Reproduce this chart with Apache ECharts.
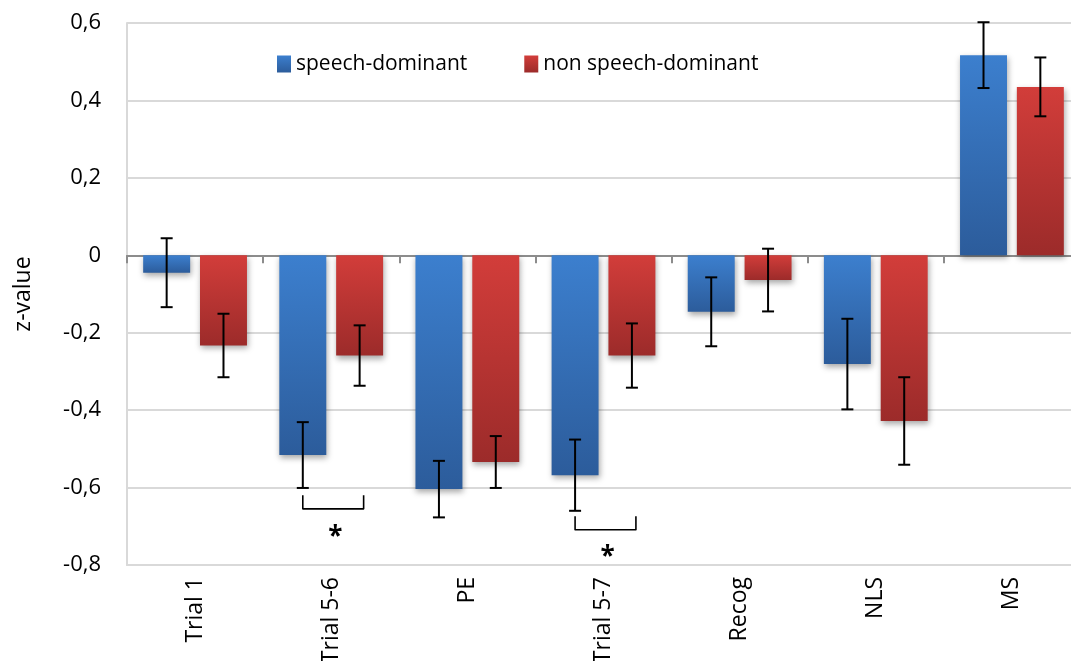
<!DOCTYPE html>
<html>
<head>
<meta charset="utf-8">
<script src="https://cdn.jsdelivr.net/npm/echarts@6/dist/echarts.min.js"></script>
<style>
  html, body { margin: 0; padding: 0; background: #ffffff; }
  #chart { width: 1071px; height: 661px; }
</style>
</head>
<body>
<div id="chart"></div>
<script>
// ---- data ----
const categories = ['Trial 1', 'Trial 5-6', 'PE', 'Trial 5-7', 'Recog', 'NLS', 'MS'];
const seriesNames = ['speech-dominant', 'non speech-dominant'];
const speechValues = [-0.045, -0.516, -0.604, -0.568, -0.146, -0.281, 0.517];
const speechErrors = [0.089, 0.085, 0.073, 0.092, 0.089, 0.117, 0.085];
const nonSpeechValues = [-0.233, -0.259, -0.534, -0.259, -0.064, -0.428, 0.435];
const nonSpeechErrors = [0.082, 0.078, 0.067, 0.083, 0.081, 0.113, 0.076];
const yTicks = [-0.8, -0.6, -0.4, -0.2, 0, 0.2, 0.4, 0.6];
// significance brackets
const sigCategories = ['Trial 5-6', 'Trial 5-7'];
const sigTop = [-0.620, -0.674];
const sigBottom = [-0.655, -0.709];
const sigStarY = [-0.728, -0.780];
const sigLabel = '*';

// ---- style ----
const FONT = '"Open Sans", "Noto Sans", sans-serif';
const BAR_W = 0.345;   // fraction of band
const BAR_GAP = 0.21;  // fraction of bar width
const blueGrad = new echarts.graphic.LinearGradient(0, 0, 0, 1, [
  { offset: 0, color: '#3C7FCE' }, { offset: 1, color: '#2C5C9B' }]);
const redGrad = new echarts.graphic.LinearGradient(0, 0, 0, 1, [
  { offset: 0, color: '#D23D3A' }, { offset: 1, color: '#9C2B2A' }]);

function barOffset(api, sign) {
  const band = api.size([1, 0])[0];
  return sign * band * BAR_W * (1 + BAR_GAP) / 2;
}

function errRender(values, errors, sign) {
  return function (params, api) {
    const i = api.value(0);
    const v = values[i], e = errors[i];
    const off = barOffset(api, sign);
    const top = api.coord([i, v + e]);
    const bot = api.coord([i, v - e]);
    const x = top[0] + off;
    const cap = 6;
    const style = { stroke: '#000', lineWidth: 2, fill: null };
    return {
      type: 'group',
      children: [
        { type: 'line', shape: { x1: x, y1: top[1], x2: x, y2: bot[1] }, style },
        { type: 'line', shape: { x1: x - cap, y1: top[1], x2: x + cap, y2: top[1] }, style },
        { type: 'line', shape: { x1: x - cap, y1: bot[1], x2: x + cap, y2: bot[1] }, style }
      ]
    };
  };
}

const sigData = sigCategories.map((c, k) => [categories.indexOf(c), sigTop[k], sigBottom[k], sigStarY[k]]);

const chart = echarts.init(document.getElementById('chart'), null, { renderer: 'canvas' });
chart.setOption({
  animation: false,
  backgroundColor: '#ffffff',
  textStyle: { fontFamily: FONT },
  grid: { left: 127, width: 953, top: 23, height: 542, containLabel: false, outerBoundsMode: 'none' },
  legend: {
    data: seriesNames,
    left: 277, top: 52, padding: 0,
    itemWidth: 14, itemHeight: 17, itemGap: 57,
    textStyle: { fontFamily: FONT, fontSize: 21, color: '#000', lineHeight: 24 },
    icon: 'rect'
  },
  xAxis: [
    {
      type: 'category', data: categories, position: 'bottom',
      axisLine: { onZero: false, lineStyle: { color: '#D9D9D9', width: 2 } },
      axisTick: { show: false },
      axisLabel: { rotate: 90, fontSize: 23, color: '#000', margin: 12, fontFamily: FONT }
    },
    {
      type: 'category', data: categories, position: 'top',
      axisLine: { onZero: true, lineStyle: { color: '#8C8C8C', width: 2 } },
      axisTick: { show: true, inside: true, length: 8, lineStyle: { color: '#8C8C8C', width: 2 } },
      axisLabel: { show: false }
    }
  ],
  yAxis: {
    type: 'value', min: -0.8, max: 0.6, interval: 0.2,
    name: 'z-value', nameLocation: 'middle', nameRotate: 90, nameGap: 92,
    nameTextStyle: { fontSize: 23, color: '#000', fontFamily: FONT },
    axisLine: { show: true, lineStyle: { color: '#D9D9D9', width: 2 } },
    axisTick: { show: false },
    splitLine: { show: true, lineStyle: { color: '#D9D9D9', width: 2 } },
    axisLabel: {
      fontSize: 22, color: '#000', margin: 26, fontFamily: FONT,
      formatter: function (v) {
        const t = yTicks.find(x => Math.abs(x - v) < 1e-9);
        const val = t === undefined ? v : t;
        return val === 0 ? '0' : val.toFixed(1).replace('.', ',');
      }
    }
  },
  series: [
    {
      name: seriesNames[0], type: 'bar', data: speechValues,
      barWidth: (BAR_W * 100) + '%', barGap: (BAR_GAP * 100) + '%',
      itemStyle: { color: blueGrad, shadowBlur: 6, shadowOffsetY: 3, shadowOffsetX: 1, shadowColor: 'rgba(0,0,0,0.35)' },
      z: 2
    },
    {
      name: seriesNames[1], type: 'bar', data: nonSpeechValues,
      barWidth: (BAR_W * 100) + '%', barGap: (BAR_GAP * 100) + '%',
      itemStyle: { color: redGrad, shadowBlur: 6, shadowOffsetY: 3, shadowOffsetX: 1, shadowColor: 'rgba(0,0,0,0.35)' },
      z: 2
    },
    {
      type: 'custom', name: 'err-speech', silent: true, z: 5,
      data: speechValues.map((v, i) => [i, v]),
      renderItem: errRender(speechValues, speechErrors, -1)
    },
    {
      type: 'custom', name: 'err-non', silent: true, z: 5,
      data: nonSpeechValues.map((v, i) => [i, v]),
      renderItem: errRender(nonSpeechValues, nonSpeechErrors, 1)
    },
    {
      type: 'custom', name: 'sig', silent: true, z: 5,
      data: sigData,
      renderItem: function (params, api) {
        const i = api.value(0);
        const left = api.coord([i, api.value(1)])[0] + barOffset(api, -1);
        const right = api.coord([i, api.value(1)])[0] + barOffset(api, 1) + 4;
        const yT = api.coord([i, api.value(1)])[1];
        const yB = api.coord([i, api.value(2)])[1];
        const yS = api.coord([i, api.value(3)])[1];
        return {
          type: 'group',
          children: [
            { type: 'polyline', shape: { points: [[left, yT], [left, yB], [right, yB], [right, yT]] },
              style: { stroke: '#000', lineWidth: 1.6, fill: null, lineJoin: 'round' } },
            { type: 'text', style: { text: sigLabel, x: (left + right) / 2 + 2, y: yS,
              align: 'center', verticalAlign: 'middle', fontSize: 26, fontWeight: 'bold',
              fontFamily: FONT, fill: '#000' } }
          ]
        };
      }
    }
  ]
});
</script>
</body>
</html>
